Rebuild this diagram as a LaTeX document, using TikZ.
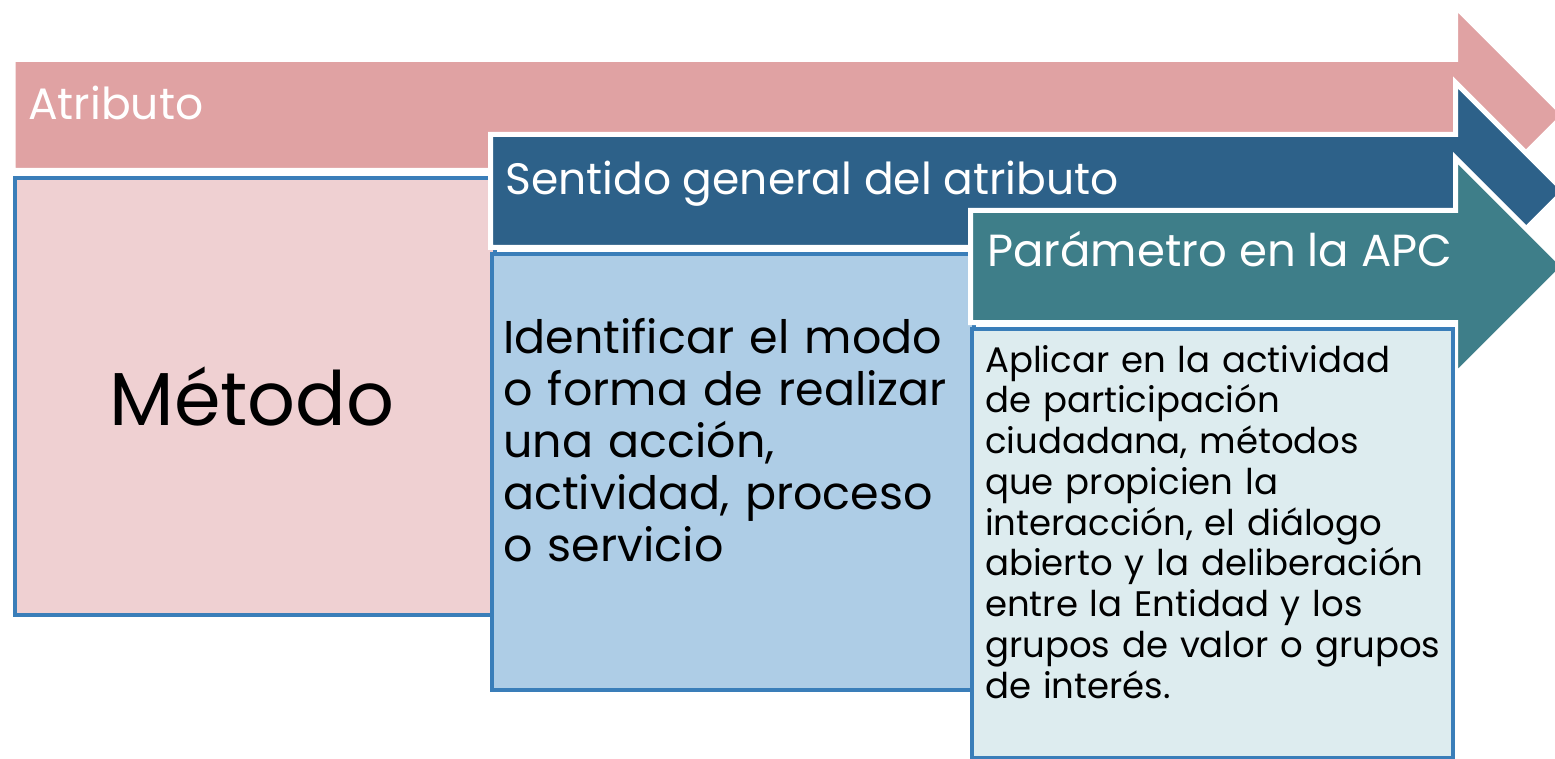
\documentclass[tikz,border=0pt]{standalone}
\usepackage{fontspec}
\setmainfont{Poppins}
\usetikzlibrary{positioning}
\definecolor{rosa}{HTML}{E0A2A3}
\definecolor{rosaclaro}{HTML}{EFD0D2}
\definecolor{azul}{HTML}{2D6189}
\definecolor{verdeazul}{HTML}{3E7E89}
\definecolor{celeste}{HTML}{AECDE6}
\definecolor{celesteclaro}{HTML}{DDECEF}
\definecolor{borde}{HTML}{3A7EB9}

\begin{document}
\begin{tikzpicture}[x=1pt,y=-1pt,
    flecha/.style={draw=white, line width=5pt, line join=miter},
    caja/.style={draw=borde, line width=4pt, anchor=north west, inner sep=0pt},
    titulo/.style={text=white, anchor=base west, inner sep=0pt, font=\fontsize{44}{52}\selectfont},
    texto/.style={anchor=base west, inner sep=0pt, align=left, text width=478pt}]
      \useasboundingbox (0,0) rectangle (1555,759);
      \fill[white] (0,0) rectangle (1555,759);
      % flechas y cajas
      \draw[flecha, fill=rosa]
      (13,59.5) -- (1455.5,59.5) -- (1455.5,6.5) -- (1564,115) -- (1455.5,223.5) -- (1455.5,170.5) -- (13,170.5) -- cycle;
      \node[caja, fill=rosaclaro, minimum width=480pt, minimum height=437pt] (metodo) at (13,176) {};
      \draw[flecha, fill=azul]
      (490.5,134.5) -- (1455.5,134.5) -- (1455.5,82.5) -- (1564,191) -- (1455.5,299.5) -- (1455.5,247.5) -- (490.5,247.5) -- cycle;
      \node[caja, fill=celeste, minimum width=482pt, minimum height=436pt] (sentido) at (490,252) {};
      \draw[flecha, fill=verdeazul]
      (970.5,210.5) -- (1455.5,210.5) -- (1455.5,158) -- (1564,266.5) -- (1455.5,375) -- (1455.5,322.5) -- (970.5,322.5) -- cycle;
      \node[caja, fill=celesteclaro, minimum width=481pt, minimum height=429pt] (parametro) at (970,327) {};
      % textos
      \node[titulo] (atributo) at (28,120) {Atributo};
      \node[titulo] (tsentido) at (505,195) {Sentido general del atributo};
      \node[titulo, font=\fontsize{45}{52}\selectfont] (tparametro) at (987,267) {Parámetro en la APC};
      \node[anchor=base, inner sep=0pt, font=\fontsize{75}{84}\selectfont] (tmetodo) at (252,425) {Método};
      \node[texto, font=\fontsize{46}{52}\selectfont] (tmodo) at (503,353)
      {Identificar el modo\\o forma de realizar\\una acción,\\actividad, proceso\\o servicio};
      \node[texto, font=\fontsize{35.5}{40.75}\selectfont] (taplicar) at (985,372)
      {Aplicar en la actividad\\de participación\\ciudadana, métodos\\que propicien la\\interacción, el diálogo\\abierto y la deliberación\\entre la Entidad y los\\grupos de valor o grupos\\de interés.};
\end{tikzpicture}
\end{document}
